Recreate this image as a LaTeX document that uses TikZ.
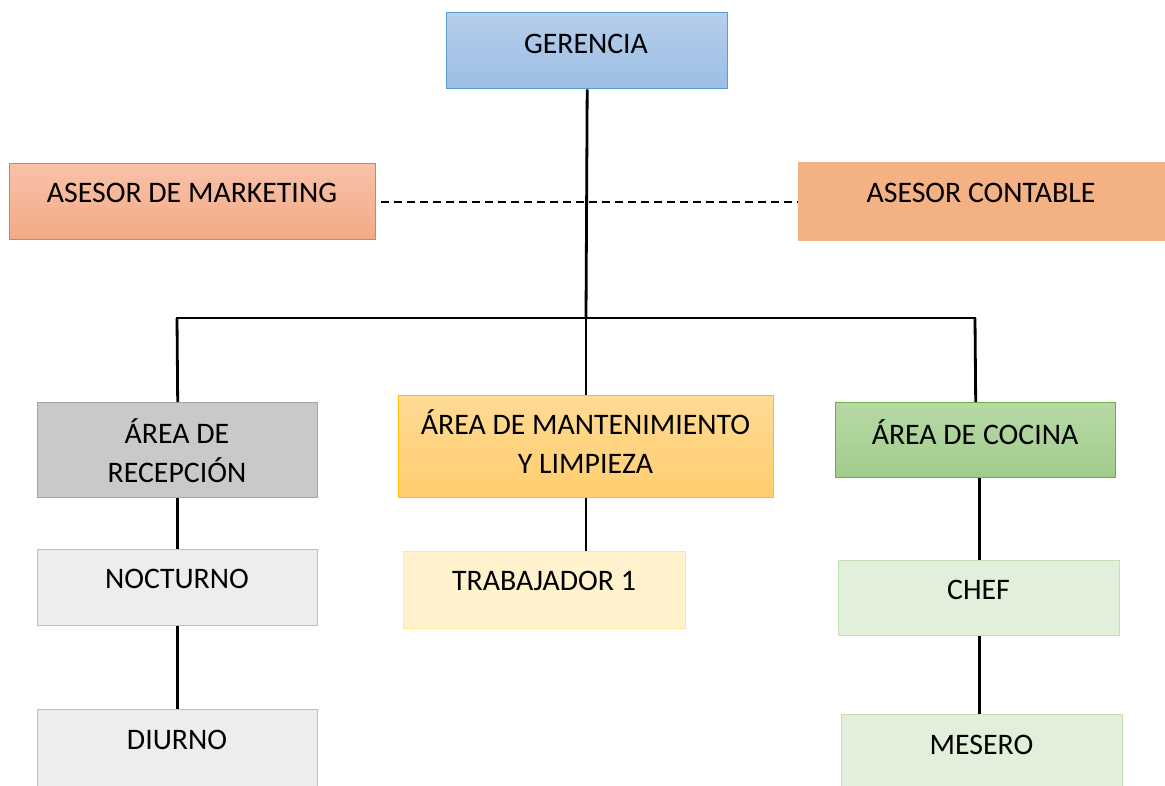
\documentclass[tikz,border=0pt]{standalone}
\usepackage{fontspec}
\setmainfont{Carlito}
\begin{document}
\begin{tikzpicture}[x=1pt,y=-1pt,
  box/.style={draw,line width=1.4pt,anchor=north west,inner sep=0pt},
  txt/.style={font=\fontsize{29.8}{39}\selectfont,align=center,inner sep=0pt,text=black},
  conn/.style={line width=2.8pt,black}]
\clip (0,0) rectangle (1165,785);
\useasboundingbox (0,0) rectangle (1165,785);
\fill[white] (0,0) rectangle (1165,785);
% boxes
\node[box,draw={rgb,255:red,91;green,155;blue,213},top color={rgb,255:red,182;green,206;blue,235},bottom color={rgb,255:red,155;green,190;blue,229},minimum width=281pt,minimum height=76pt] (ger) at (446,12) {};
\node[txt] at (586,44) {GERENCIA};
\node[box,draw={rgb,255:red,237;green,125;blue,49},top color={rgb,255:red,248;green,194;blue,168},bottom color={rgb,255:red,244;green,169;blue,135},minimum width=366pt,minimum height=76pt] (mkt) at (9,163) {};
\node[txt] at (192,193) {ASESOR DE MARKETING};
\node[box,draw={rgb,255:red,244;green,177;blue,131},fill={rgb,255:red,244;green,177;blue,131},minimum width=367pt,minimum height=78pt] (con) at (798,162) {};
\node[txt] at (981,193) {ASESOR CONTABLE};
\node[box,draw={rgb,255:red,165;green,165;blue,165},fill={rgb,255:red,201;green,201;blue,201},minimum width=280pt,minimum height=95pt] (rec) at (37,402) {};
\node[txt] at (177,451) {ÁREA DE\\RECEPCIÓN};
\node[box,draw={rgb,255:red,255;green,192;blue,0},top color={rgb,255:red,255;green,219;blue,148},bottom color={rgb,255:red,255;green,205;blue,110},minimum width=375pt,minimum height=102pt] (man) at (398,395) {};
\node[txt] at (585.5,442) {ÁREA DE MANTENIMIENTO\\Y LIMPIEZA};
\node[box,draw={rgb,255:red,112;green,173;blue,71},top color={rgb,255:red,183;green,217;blue,166},bottom color={rgb,255:red,160;green,204;blue,138},minimum width=280pt,minimum height=75pt] (coc) at (835,402) {};
\node[txt] at (975,432) {ÁREA DE COCINA};
\node[box,draw={rgb,255:red,191;green,191;blue,191},fill={rgb,255:red,237;green,237;blue,237},minimum width=280pt,minimum height=76pt] (noc) at (37,549) {};
\node[txt] at (177,579) {NOCTURNO};
\node[box,draw={rgb,255:red,191;green,191;blue,191},fill={rgb,255:red,237;green,237;blue,237},minimum width=280pt,minimum height=80pt] (diu) at (37,709) {};
\node[txt] at (177,740) {DIURNO};
\node[box,draw={rgb,255:red,255;green,230;blue,153},fill={rgb,255:red,255;green,242;blue,204},minimum width=282pt,minimum height=77pt] (tra) at (403,551) {};
\node[txt] at (544,581) {TRABAJADOR 1};
\node[box,draw={rgb,255:red,197;green,224;blue,180},fill={rgb,255:red,226;green,239;blue,218},minimum width=281pt,minimum height=75pt] (che) at (838,560) {};
\node[txt] at (978.5,590) {CHEF};
\node[box,draw={rgb,255:red,197;green,224;blue,180},fill={rgb,255:red,226;green,239;blue,218},minimum width=281pt,minimum height=80pt] (mes) at (841,714) {};
\node[txt] at (981.5,745) {MESERO};
% connectors
\coordinate (jm) at (586,318);
\coordinate (jl) at (177,318);
\coordinate (jr) at (975,318);
\draw[line width=1.8pt,dash pattern=on 8pt off 5pt] (mkt.east) ++(5,0) -- (con.west);
\draw[conn] (ger.south) -- (jm);
\draw[conn,line cap=rect] (jl) -- (jr);
\draw[conn] (jl) -- (rec.north);
\draw[conn] (jm) -- (man.north -| jm);
\draw[conn] (jr) -- (coc.north);
\draw[conn] (rec.south) -- (noc.north);
\draw[conn] (noc.south) -- (diu.north);
\draw[conn] (man.south -| jm) -- (tra.north -| jm);
\draw[conn] (coc.south -| che.north) -- (che.north);
\draw[conn] (che.south) -- (mes.north -| che.south);
\end{tikzpicture}
\end{document}
